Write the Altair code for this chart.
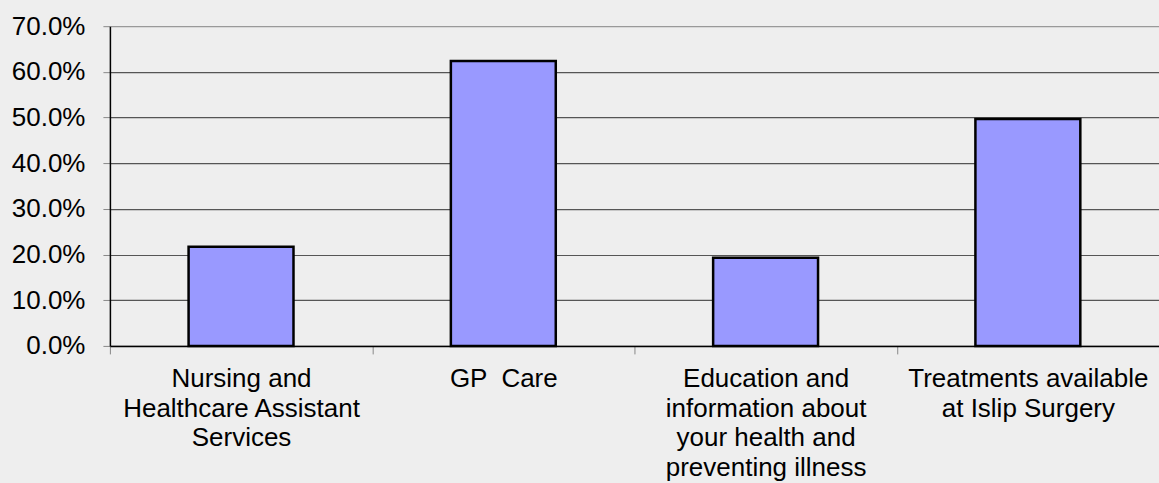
import altair as alt
import pandas as pd

# Survey categories and share of responses
categories = [
    "Nursing and|Healthcare Assistant|Services",
    "GP \u00a0Care",
    "Education and|information about|your health and|preventing illness",
    "Treatments available|at Islip Surgery",
]
shares = [0.217, 0.624, 0.193, 0.497]

df = pd.DataFrame({"category": categories, "share": shares})

FONT = "Liberation Sans"

chart = (
    alt.Chart(df)
    .mark_bar(
        color="#9999ff",
        stroke="#000000",
        strokeWidth=2.5,
        width=alt.RelativeBandSize(0.4),
    )
    .encode(
        x=alt.X(
            "category:N",
            sort=categories,
            scale=alt.Scale(paddingInner=0, paddingOuter=0),
            axis=alt.Axis(
                title=None,
                labelAngle=0,
                labelExpr="split(datum.label, '|')",
                labelFont=FONT,
                labelFontSize=26,
                labelColor="#000000",
                labelLineHeight=29.5,
                labelPadding=12,
                labelLimit=400,
                tickBand="extent",
                tickColor="#888888",
                tickSize=8,
                domainColor="#000000",
                domainWidth=1.5,
            ),
        ),
        y=alt.Y(
            "share:Q",
            scale=alt.Scale(domain=[0, 0.7], nice=False),
            axis=alt.Axis(
                title=None,
                format=".1%",
                values=[0, 0.1, 0.2, 0.3, 0.4, 0.5, 0.6, 0.7],
                labelFont=FONT,
                labelFontSize=26,
                labelColor="#000000",
                labelPadding=18,
                tickColor="#888888",
                tickSize=7,
                domainColor="#000000",
                domainWidth=1.5,
                grid=True,
                gridColor={
                    "condition": {"test": "datum.value >= 0.7", "value": "#999999"},
                    "value": "#555555",
                },
                gridWidth=1.2,
            ),
        ),
    )
    .properties(
        width=1050,
        height=320,
        background="#eeeeee",
        padding={"left": 110, "top": 26, "right": 0, "bottom": 137},
        autosize=alt.AutoSizeParams(type="none"),
    )
    .configure_view(stroke=None)
)

chart.save("out.html", embed_options={"renderer": "svg", "actions": False})
